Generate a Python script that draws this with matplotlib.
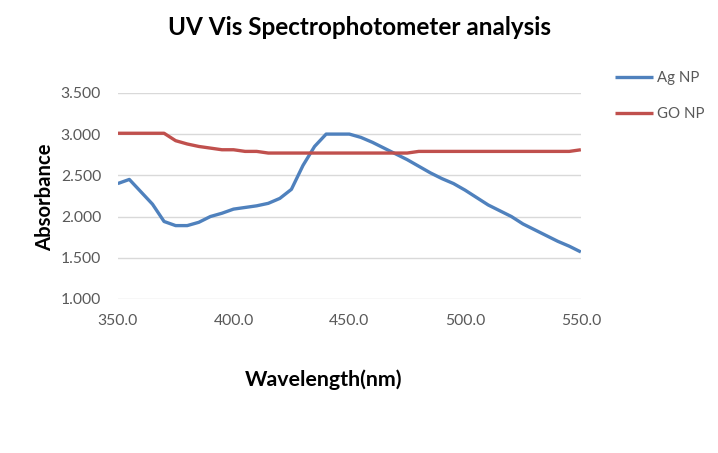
import matplotlib
matplotlib.use('Agg')
import matplotlib.pyplot as plt
import numpy as np

plt.rcParams['font.family'] = ['Lato', 'DejaVu Sans']

wavelength = list(range(350, 551, 5))
ag_np = [2.40, 2.45, 2.30, 2.15, 1.94, 1.89, 1.89, 1.93, 2.00, 2.04,
         2.09, 2.11, 2.13, 2.16, 2.22, 2.33, 2.62, 2.85, 3.00, 3.00,
         3.00, 2.96, 2.90, 2.83, 2.76, 2.69, 2.61, 2.53, 2.46, 2.40,
         2.32, 2.23, 2.14, 2.07, 2.00, 1.91, 1.84, 1.77, 1.70, 1.64, 1.57]
go_np = [3.01, 3.01, 3.01, 3.01, 3.01, 2.92, 2.88, 2.85, 2.83, 2.81,
         2.81, 2.79, 2.79, 2.77, 2.77, 2.77, 2.77, 2.77, 2.77, 2.77,
         2.77, 2.77, 2.77, 2.77, 2.77, 2.77, 2.79, 2.79, 2.79, 2.79,
         2.79, 2.79, 2.79, 2.79, 2.79, 2.79, 2.79, 2.79, 2.79, 2.79, 2.81]
x_ticks = [350, 400, 450, 500, 550]
y_ticks = [1.0, 1.5, 2.0, 2.5, 3.0, 3.5]

fig = plt.figure(figsize=(7.18, 4.53), dpi=100)
ax = fig.add_axes([0.164, 0.340, 0.645, 0.455])

ax.plot(wavelength, ag_np, color='#4F81BD', lw=2.4, label='Ag NP', solid_capstyle='butt')
ax.plot(wavelength, go_np, color='#C0504D', lw=2.4, label='GO NP', solid_capstyle='butt')

ax.set_xlim(350, 550)
ax.set_ylim(1.0, 3.5)
ax.set_xticks(x_ticks)
ax.set_xticklabels([f'{v:.1f}' for v in x_ticks])
ax.set_yticks(y_ticks)
ax.set_yticklabels([f'{v:.3f}' for v in y_ticks])
ax.grid(axis='y', color='#D9D9D9', lw=1)
ax.set_axisbelow(True)
for s in ax.spines.values():
    s.set_visible(False)
ax.tick_params(length=0, labelsize=11.3, colors='#595959')
ax.tick_params(axis='x', pad=11)
ax.tick_params(axis='y', pad=12)

fig.text(0.501, 0.94, 'UV Vis Spectrophotometer analysis', ha='center', va='center',
         fontsize=17.5, fontweight='bold')
fig.text(0.451, 0.161, 'Wavelength(nm)', ha='center', va='center',
         fontsize=15.4, fontweight='bold')
fig.text(0.063, 0.565, 'Absorbance', ha='center', va='center', rotation=90,
         fontsize=14.6, fontweight='bold')

# legend sits outside the plot on the right
fig.legend(loc='upper left', bbox_to_anchor=(0.857, 0.843), frameon=False,
           borderpad=0, borderaxespad=0,
           fontsize=10.8, handlelength=2.5, handletextpad=0.25, labelspacing=1.45,
           labelcolor='#595959')

fig.savefig('out.png', dpi=100)
